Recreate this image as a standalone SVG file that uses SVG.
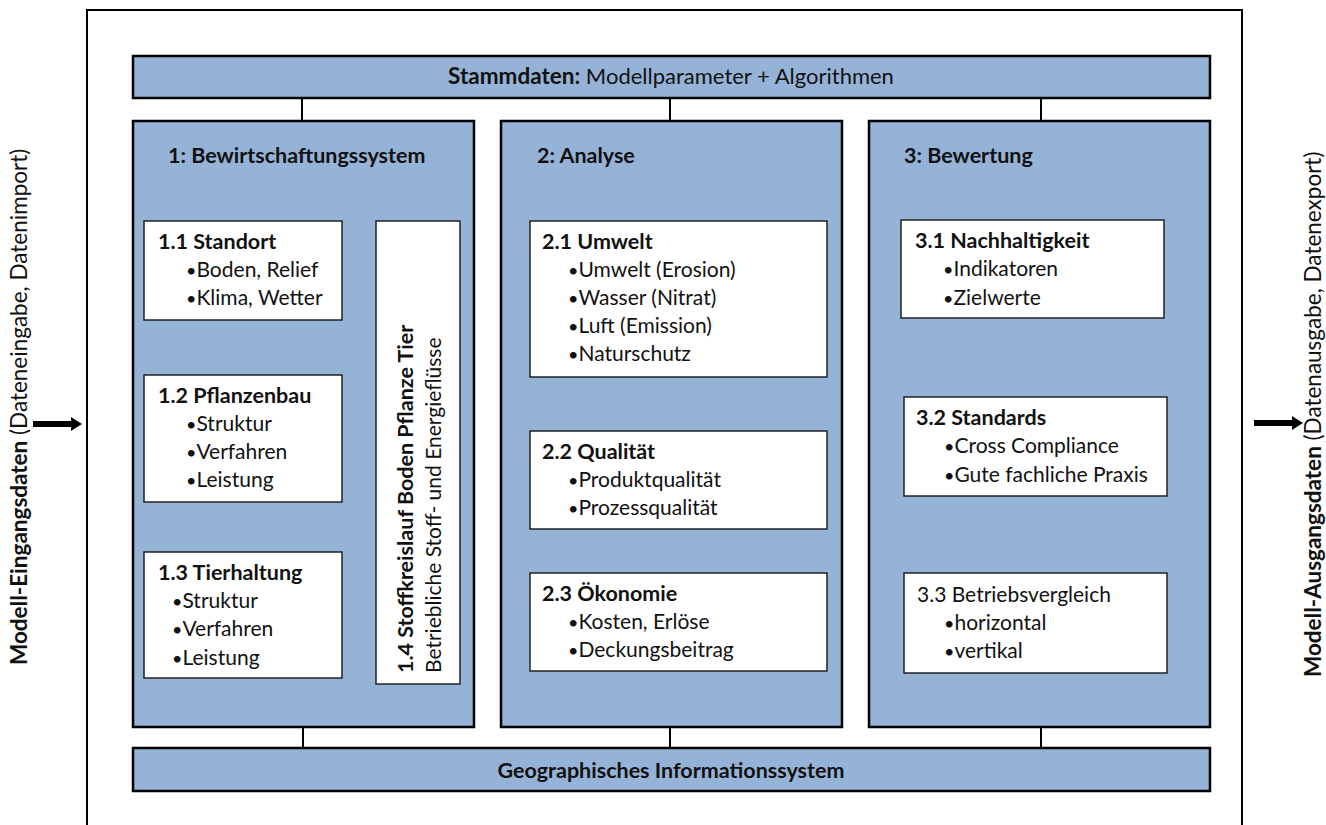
<svg xmlns="http://www.w3.org/2000/svg" width="1326" height="825" viewBox="0 0 1326 825">
<style>
text{font-family:Lato,"Liberation Sans",sans-serif;fill:#111;font-size:21px}
.b{font-weight:bold;font-size:21.5px}
.bu{font-size:18px}
.bar{fill:#95B3D7;stroke:#000;stroke-width:2.5}
.col{fill:#95B3D7;stroke:#000;stroke-width:2.5}
.box{fill:#fff;stroke:#222;stroke-width:1.5}
.con{stroke:#000;stroke-width:2;fill:none}
.con2{stroke:#222;stroke-width:1.5;fill:none}
.arr{fill:#000}
</style>
<rect x="0" y="0" width="1326" height="825" fill="#fff"/>
<rect id="frame" x="87" y="10" width="1155" height="830" fill="none" stroke="#000" stroke-width="2"/>

<g id="connectors">
<line class="con" x1="302" y1="98" x2="302" y2="121"/>
<line class="con" x1="670" y1="98" x2="670" y2="121"/>
<line class="con" x1="1041" y1="98" x2="1041" y2="121"/>
<line class="con" x1="303" y1="727" x2="303" y2="748"/>
<line class="con" x1="670" y1="727" x2="670" y2="748"/>
<line class="con" x1="1041" y1="727" x2="1041" y2="748"/>
<line class="con2" x1="342" y1="271" x2="376" y2="271"/>
<line class="con2" x1="342" y1="441" x2="376" y2="441"/>
<line class="con2" x1="342" y1="616" x2="376" y2="616"/>
<path class="arr" d="M33,421 L71,421 L71,417 L82,424 L71,431 L71,427 L33,427 z"/>
<path class="arr" d="M1254,420 L1292,420 L1292,416 L1303,423 L1292,430 L1292,426 L1254,426 z"/>
</g>

<g id="stammdaten">
<rect class="bar" x="133" y="56" width="1077" height="42"/>
<text x="671" y="84" text-anchor="middle" style="font-size:22px"><tspan class="b" style="font-size:22.5px">Stammdaten:</tspan> Modellparameter + Algorithmen</text>
</g>
<g id="gis">
<rect class="bar" x="133" y="748" width="1077" height="43"/>
<text class="b" x="671" y="778" text-anchor="middle">Geographisches Informationssystem</text>
</g>

<g id="col1">
<rect class="col" x="133" y="121" width="341" height="606"/>
<text class="b" x="168" y="163">1: Bewirtschaftungssystem</text>
</g>
<g id="col2">
<rect class="col" x="501" y="121" width="341" height="606"/>
<text class="b" x="537" y="163">2: Analyse</text>
</g>
<g id="col3">
<rect class="col" x="869" y="121" width="341" height="606"/>
<text class="b" x="904" y="163">3: Bewertung</text>
</g>

<g id="n11">
<rect class="box" x="144" y="221" width="198" height="99"/>
<text class="b" x="158" y="249">1.1 Standort</text>
<text x="186" y="277"><tspan class="bu">•</tspan>Boden, Relief</text>
<text x="186" y="305"><tspan class="bu">•</tspan>Klima, Wetter</text>
</g>
<g id="n12">
<rect class="box" x="144" y="375" width="198" height="127"/>
<text class="b" x="158" y="403">1.2 Pflanzenbau</text>
<text x="186" y="431"><tspan class="bu">•</tspan>Struktur</text>
<text x="186" y="459"><tspan class="bu">•</tspan>Verfahren</text>
<text x="186" y="487"><tspan class="bu">•</tspan>Leistung</text>
</g>
<g id="n13">
<rect class="box" x="144" y="552" width="198" height="126"/>
<text class="b" x="158" y="580">1.3 Tierhaltung</text>
<text x="172" y="608"><tspan class="bu">•</tspan>Struktur</text>
<text x="172" y="636"><tspan class="bu">•</tspan>Verfahren</text>
<text x="172" y="665"><tspan class="bu">•</tspan>Leistung</text>
</g>
<g id="n14">
<rect class="box" x="376" y="221" width="84" height="463"/>
<text class="b" transform="translate(413,673) rotate(-90)">1.4 Stoffkreislauf Boden Pflanze Tier</text>
<text transform="translate(441,673) rotate(-90)">Betriebliche Stoff- und Energieflüsse</text>
</g>

<g id="n21">
<rect class="box" x="530" y="221" width="297" height="156"/>
<text class="b" x="542" y="249">2.1 Umwelt</text>
<text x="568" y="277"><tspan class="bu">•</tspan>Umwelt (Erosion)</text>
<text x="568" y="305"><tspan class="bu">•</tspan>Wasser (Nitrat)</text>
<text x="568" y="333"><tspan class="bu">•</tspan>Luft (Emission)</text>
<text x="568" y="361"><tspan class="bu">•</tspan>Naturschutz</text>
</g>
<g id="n22">
<rect class="box" x="530" y="431" width="297" height="98"/>
<text class="b" x="542" y="459">2.2 Qualität</text>
<text x="568" y="487"><tspan class="bu">•</tspan>Produktqualität</text>
<text x="568" y="515"><tspan class="bu">•</tspan>Prozessqualität</text>
</g>
<g id="n23">
<rect class="box" x="530" y="573" width="297" height="98"/>
<text class="b" x="542" y="601">2.3 Ökonomie</text>
<text x="568" y="629"><tspan class="bu">•</tspan>Kosten, Erlöse</text>
<text x="568" y="657"><tspan class="bu">•</tspan>Deckungsbeitrag</text>
</g>

<g id="n31">
<rect class="box" x="901" y="220" width="263" height="98"/>
<text class="b" x="915" y="248">3.1 Nachhaltigkeit</text>
<text x="943" y="276"><tspan class="bu">•</tspan>Indikatoren</text>
<text x="943" y="305"><tspan class="bu">•</tspan>Zielwerte</text>
</g>
<g id="n32">
<rect class="box" x="904" y="397" width="263" height="99"/>
<text class="b" x="916" y="425">3.2 Standards</text>
<text x="944" y="453"><tspan class="bu">•</tspan>Cross Compliance</text>
<text x="944" y="482"><tspan class="bu">•</tspan>Gute fachliche Praxis</text>
</g>
<g id="n33">
<rect class="box" x="904" y="573" width="263" height="100"/>
<text x="917" y="602">3.3 Betriebsvergleich</text>
<text x="944" y="630"><tspan class="bu">•</tspan>horizontal</text>
<text x="944" y="658"><tspan class="bu">•</tspan>vertikal</text>
</g>

<g id="input">
<text transform="translate(27,665) rotate(-90)" style="font-size:22.5px"><tspan class="b" style="font-size:22.5px">Modell-Eingangsdaten</tspan> (Dateneingabe, Datenimport)</text>
</g>
<g id="output">
<text transform="translate(1321,677) rotate(-90)" style="font-size:22.5px"><tspan class="b" style="font-size:22.5px">Modell-Ausgangsdaten</tspan> (Datenausgabe, Datenexport)</text>
</g>
</svg>
